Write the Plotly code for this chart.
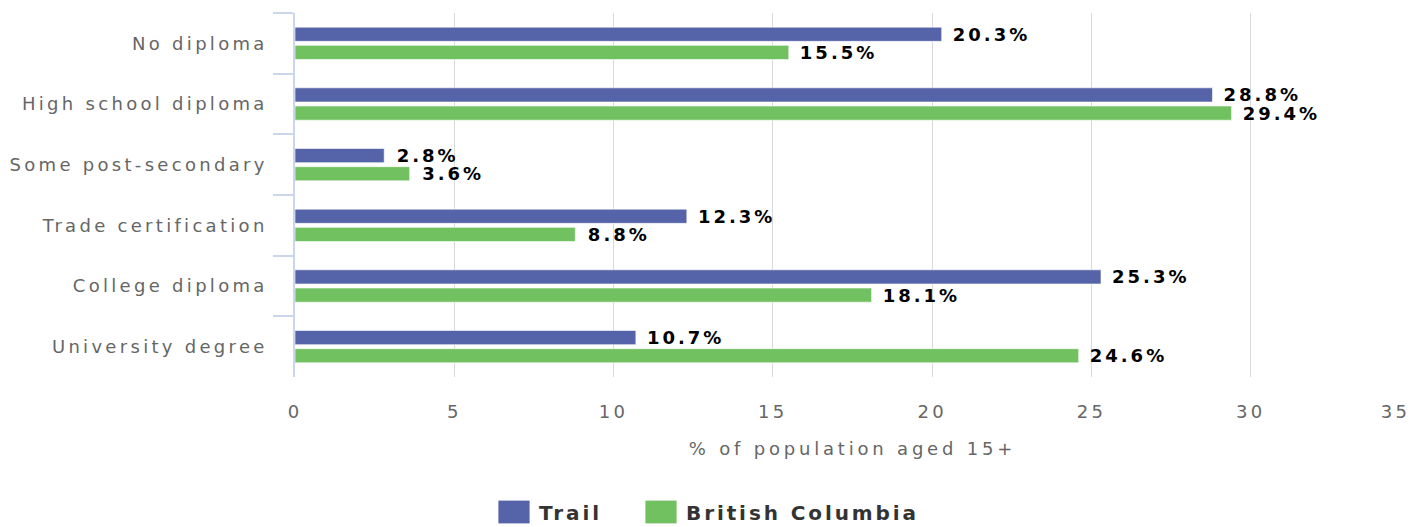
import plotly.graph_objects as go

categories = ["No diploma", "High school diploma", "Some post-secondary",
              "Trade certification", "College diploma", "University degree"]
trail = [20.3, 28.8, 2.8, 12.3, 25.3, 10.7]
bc = [15.5, 29.4, 3.6, 8.8, 18.1, 24.6]
x_ticks = [0, 5, 10, 15, 20, 25, 30, 35]
x_ticktext = ["0", "5", "10", "15", "20", "25", "30", ""]
last_tick_label = "35"

FONT = "DejaVu Sans"
W, H = 1411, 527

fig = go.Figure()
for name, vals, col in [("Trail", trail, "#5563a8"), ("British Columbia", bc, "#71c161")]:
    fig.add_trace(go.Bar(
        y=categories, x=vals, name=name, orientation="h",
        marker=dict(color=col, line=dict(color="#ffffff", width=0.6)),
        texttemplate="  %{x:.1f}%", textposition="outside", cliponaxis=False,
        constraintext="none",
        textfont=dict(family=FONT, size=18, color="#000000", weight="bold"),
    ))

fig.update_layout(
    width=W, height=H,
    margin=dict(l=295, r=1, t=13, b=150, autoexpand=False),
    paper_bgcolor="#ffffff", plot_bgcolor="#ffffff",
    barmode="group", bargap=0.40, bargroupgap=0.22,
    font=dict(family=FONT, size=18, color="#666666"),
    showlegend=True,
    legend=dict(orientation="h", xref="container", yref="container",
                x=489 / W, xanchor="left", y=(H - 512) / H, yanchor="middle",
                font=dict(family=FONT, size=20, color="#333333", weight="bold"),
                itemwidth=40, entrywidth=92, traceorder="normal",
                bgcolor="rgba(0,0,0,0)", borderwidth=0),
)
# last x tick label is right-justified inside the figure (as in the reference)
fig.add_annotation(
    x=x_ticks[-1], xref="x", y=0, yref="paper", text=last_tick_label,
    showarrow=False, xanchor="right", yanchor="middle", xshift=-1, yshift=-34,
    font=dict(family=FONT, size=18, color="#666666"),
)
fig.update_xaxes(
    range=[0, 35], tickvals=x_ticks, ticktext=x_ticktext,
    showgrid=True, gridcolor="#d9d9d9", gridwidth=1, zeroline=False,
    showline=False, ticks="", ticklabelstandoff=22,
    tickfont=dict(family=FONT, size=18, color="#666666"),
    title=dict(text="% of population aged 15+", standoff=21,
               font=dict(family=FONT, size=18, color="#666666")),
)
fig.update_yaxes(
    autorange="reversed", showgrid=False, zeroline=False,
    showline=True, linecolor="#ccd6eb", linewidth=1.5,
    ticks="outside", tickson="boundaries", ticklen=20, tickcolor="#ccd6eb",
    tickwidth=1.5, ticklabelstandoff=22,
    tickfont=dict(family=FONT, size=18, color="#666666"),
)

post = """
var st = document.createElement('style');
st.innerHTML = 'body { margin: 0 !important; }' +
  '.main-svg .xtick text, .main-svg .ytick text, .main-svg .annotation-text { letter-spacing: 3.3px; }' +
  '.main-svg .xtitle { letter-spacing: 3.8px; }' +
  '.main-svg .bartext { letter-spacing: 3px; }' +
  '.main-svg .legendtext { letter-spacing: 2.9px; }' +
  '.main-svg .legend .scrollbox { clip-path: none !important; }' +
  '.main-svg .legendpoints path { transform: translate(25px, 0px) scale(2.6, 1.9); stroke-width: 0 !important; }';
document.head.appendChild(st);
"""
fig.write_html("out.html", post_script=post, config={"displayModeBar": False})
